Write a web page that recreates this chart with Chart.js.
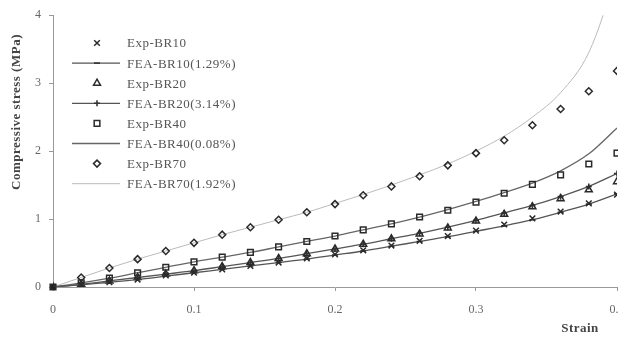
<!DOCTYPE html>
<html>
<head>
<meta charset="utf-8">
<script src="https://cdn.jsdelivr.net/npm/chart.js@4/dist/chart.umd.min.js"></script>
<style>
  body { margin: 0; overflow: hidden; background: #fff; }
  #caixa { width: 640px; height: 338px; }
</style>
</head>
<body>
<div id="caixa"><canvas id="grafico" width="640" height="338"></canvas></div>
<script>
// Deformacao (eixo x)
let deformacao = [0, 0.02, 0.04, 0.06, 0.08, 0.1, 0.12, 0.14, 0.16, 0.18, 0.2,
  0.22, 0.24, 0.26, 0.28, 0.3, 0.32, 0.34, 0.36, 0.38, 0.4];

// Ensaios (MPa)
let expBR10 = [0, 0.03, 0.07, 0.11, 0.17, 0.21, 0.26, 0.31, 0.36, 0.42, 0.48,
  0.54, 0.61, 0.68, 0.75, 0.83, 0.92, 1.01, 1.11, 1.23, 1.36];
let expBR20 = [0, 0.04, 0.09, 0.14, 0.19, 0.24, 0.30, 0.36, 0.42, 0.49, 0.56,
  0.63, 0.71, 0.78, 0.87, 0.97, 1.07, 1.18, 1.30, 1.43, 1.55];
let expBR40 = [0, 0.06, 0.13, 0.21, 0.29, 0.37, 0.44, 0.51, 0.59, 0.67, 0.75,
  0.84, 0.93, 1.03, 1.13, 1.25, 1.38, 1.51, 1.65, 1.81, 1.97];
let expBR70 = [0, 0.14, 0.28, 0.41, 0.53, 0.65, 0.77, 0.88, 0.99, 1.10, 1.22,
  1.35, 1.48, 1.63, 1.79, 1.97, 2.16, 2.38, 2.62, 2.88, 3.18];

// Modelo FEA (MPa)
let feaBR10 = [0, 0.03, 0.07, 0.11, 0.16, 0.21, 0.26, 0.31, 0.36, 0.41, 0.47,
  0.53, 0.60, 0.67, 0.74, 0.82, 0.90, 0.99, 1.10, 1.22, 1.37];
let feaBR20 = [0, 0.04, 0.09, 0.14, 0.19, 0.24, 0.30, 0.36, 0.42, 0.49, 0.56,
  0.63, 0.71, 0.79, 0.88, 0.98, 1.09, 1.20, 1.33, 1.48, 1.67];
let feaBR40 = [0, 0.06, 0.13, 0.21, 0.29, 0.37, 0.44, 0.51, 0.59, 0.67, 0.75,
  0.84, 0.93, 1.03, 1.14, 1.26, 1.39, 1.53, 1.71, 1.96, 2.34];
let feaBR70 = [0, 0.14, 0.28, 0.41, 0.53, 0.65, 0.77, 0.88, 0.99, 1.10, 1.23,
  1.36, 1.50, 1.65, 1.81, 2.00, 2.22, 2.50, 2.86, 3.45, 4.60];

function pontos(valores) {
  return deformacao.map((x, i) => ({ x: x, y: valores[i] }));
}

function serieExp(nome, valores, estilo, raio) {
  return {
    label: nome,
    data: pontos(valores),
    showLine: false,
    pointStyle: estilo,
    pointRadius: raio,
    pointBorderWidth: 1.5,
    pointBorderColor: '#2a2a2a',
    pointBackgroundColor: 'rgba(255,255,255,0)'
  };
}

function serieFea(nome, valores, cor, largura, estilo, raio) {
  return {
    label: nome,
    data: pontos(valores),
    showLine: true,
    borderColor: cor,
    borderWidth: largura,
    cubicInterpolationMode: 'monotone',
    pointStyle: estilo,
    pointRadius: raio,
    pointBorderWidth: 1.6,
    pointBorderColor: '#333',
    pointBackgroundColor: '#333'
  };
}

// legenda e titulos dos eixos
const legenda = {
  id: 'legenda',
  afterDraw(chart) {
    let ctx = chart.ctx;
    ctx.save();

    ctx.fillStyle = '#444';
    ctx.font = 'bold 13px "Liberation Serif"';
    ctx.letterSpacing = '0.5px';
    ctx.textAlign = 'center';
    ctx.textBaseline = 'middle';
    ctx.fillText('Strain', 580, 329);

    ctx.save();
    ctx.translate(17, 112);
    ctx.rotate(-Math.PI / 2);
    ctx.fillText('Compressive stress (MPa)', 0, 0);
    ctx.restore();

    ctx.font = '13px "Liberation Serif"';
    ctx.textAlign = 'left';
    chart.data.datasets.forEach((ds, i) => {
      let y = 43 + i * 20.1;
      if (ds.showLine) {
        ctx.strokeStyle = ds.borderColor;
        ctx.lineWidth = ds.borderWidth;
        ctx.beginPath();
        ctx.moveTo(72, y);
        ctx.lineTo(120, y);
        ctx.stroke();
      }
      if (ds.pointRadius > 0) {
        let fundo = ds.pointBackgroundColor;
        ctx.strokeStyle = ds.pointBorderColor;
        ctx.fillStyle = typeof fundo === 'function' ? 'rgba(255,255,255,0)' : fundo;
        ctx.lineWidth = ds.pointBorderWidth;
        Chart.helpers.drawPoint(ctx, {
          pointStyle: ds.pointStyle,
          radius: ds.pointRadius,
          rotation: 0,
          borderWidth: ds.pointBorderWidth
        }, 97, y);
      }
      ctx.fillStyle = '#555';
      ctx.fillText(ds.label, 127, y + 1);
    });
    ctx.restore();
  }
};

let ctx = document.getElementById('grafico').getContext('2d');

let br40 = serieExp('Exp-BR40', expBR40, 'rect', 4);
// marcadores sobrepostos na origem ficam pretos
br40.pointBackgroundColor = (c) => c.dataIndex === 0 ? '#222' : 'rgba(255,255,255,0)';
br40.clip = false;

new Chart(ctx, {
  type: 'scatter',
  data: {
    datasets: [
      serieExp('Exp-BR10', expBR10, 'crossRot', 4),
      serieFea('FEA-BR10(1.29%)', feaBR10, '#555', 1.3, 'line', 3),
      serieExp('Exp-BR20', expBR20, 'triangle', 4),
      serieFea('FEA-BR20(3.14%)', feaBR20, '#555', 1.3, 'cross', 3),
      br40,
      serieFea('FEA-BR40(0.08%)', feaBR40, '#666', 1.3, 'circle', 0),
      serieExp('Exp-BR70', expBR70, 'rectRot', 3.5),
      serieFea('FEA-BR70(1.92%)', feaBR70, '#bbb', 1, 'circle', 0)
    ]
  },
  options: {
    responsive: false,
    animation: false,
    layout: { padding: { top: 15, right: 23, bottom: 0, left: 0 } },
    plugins: {
      legend: { display: false },
      tooltip: { enabled: false }
    },
    scales: {
      x: {
        type: 'linear',
        min: 0,
        max: 0.4,
        afterFit: (s) => { s.height = 51; },
        grid: { drawOnChartArea: false, drawTicks: true, tickLength: 4, color: '#999' },
        border: { color: '#999', width: 1 },
        ticks: {
          stepSize: 0.1,
          padding: 12,
          color: '#666',
          font: { family: 'Liberation Serif', size: 12 }
        }
      },
      y: {
        min: 0,
        max: 4,
        afterFit: (s) => { s.width = 53; },
        grid: { drawOnChartArea: false, drawTicks: true, tickLength: 4, color: '#999' },
        border: { color: '#999', width: 1 },
        ticks: {
          stepSize: 1,
          padding: 8,
          color: '#666',
          font: { family: 'Liberation Serif', size: 12 }
        }
      }
    }
  },
  plugins: [legenda]
});
</script>
</body>
</html>
